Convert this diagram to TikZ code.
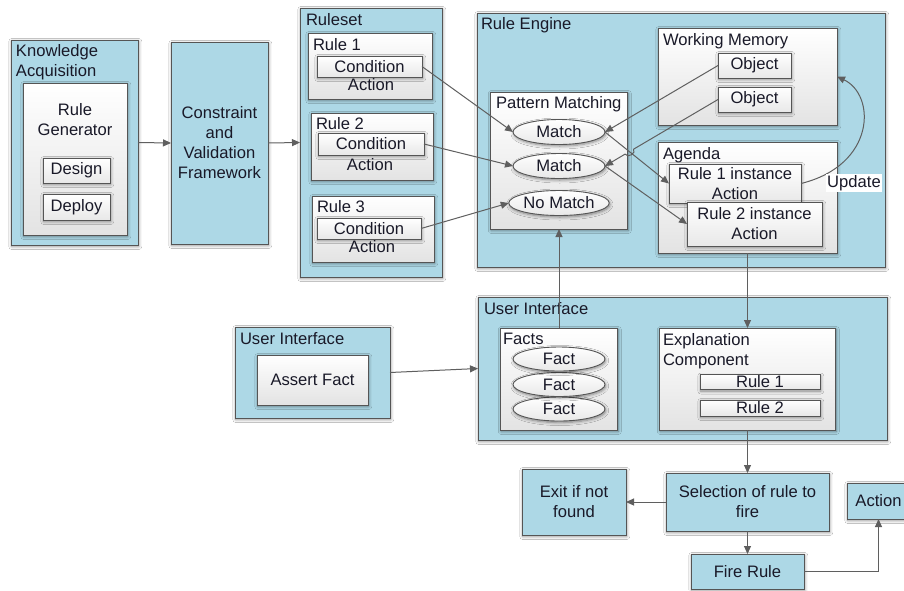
\documentclass[tikz,border=0pt]{standalone}
\usepackage{fontspec}
\setmainfont{Liberation Sans}
\usetikzlibrary{shapes.geometric,shadows.blur,arrows.meta}
\definecolor{paleblue}{RGB}{173,216,230}
\definecolor{edgegray}{RGB}{85,85,85}
\definecolor{wiregray}{RGB}{95,95,95}
\definecolor{inkdark}{RGB}{25,25,40}

\begin{document}
\begin{tikzpicture}[x=1pt,y=-1pt,
  every node/.style={font=\fontsize{16.6}{20}\selectfont, inner sep=0pt, outer sep=0pt, text=inkdark},
  sh/.style={blur shadow={shadow xshift=0.8pt, shadow yshift=-1.5pt, shadow blur radius=3pt, shadow blur steps=6, shadow opacity=45}},
  bluebox/.style={draw=edgegray, line width=0.9pt, fill=paleblue, sh, align=center},
  panel/.style={draw=edgegray, line width=0.9pt, top color=white, bottom color=black!11, sh, align=center},
  chip/.style={draw=edgegray, line width=0.9pt, top color=white, bottom color=black!9, sh, align=center},
  oval/.style={ellipse, draw=edgegray, line width=0.9pt, top color=white, bottom color=black!9, sh, align=center},
  title/.style={anchor=north west, align=left},
  tag/.style={fill=white, inner sep=1.5pt},
  arr/.style={draw=wiregray, line width=1pt, -{Triangle[length=8pt,width=7pt]}},
]
\useasboundingbox (0,0) rectangle (904,590);
\fill[white] (0,0) rectangle (904,590);

% --- Knowledge acquisition ---
\node[bluebox, minimum width=127, minimum height=205] (ka) at (74.5,142.5) {};
\node[title] (kat) at (16,44) {Knowledge\\Acquisition};
\node[panel, minimum width=104, minimum height=152] (rg) at (75,159) {};
\node[anchor=north, align=center] (rgt) at (75,103) {Rule\\Generator};
\node[chip, minimum width=67, minimum height=25] (design) at (76.5,170.5) {Design};
\node[chip, minimum width=67, minimum height=26] (deploy) at (76.5,207) {Deploy};

% --- Constraint framework ---
\node[bluebox, minimum width=97, minimum height=202] (cvf) at (219.5,143) {Constraint\\and\\Validation\\Framework};

% --- Ruleset ---
\node[bluebox, minimum width=142, minimum height=269] (ruleset) at (371,142.5) {};
\node[title] (rst) at (306,13) {Ruleset};
\node[panel, minimum width=124, minimum height=66] (r1) at (370,66) {};
\node[title] (r1t) at (313,38) {Rule 1};
\node[chip, minimum width=105, minimum height=21] (r1c) at (369.5,66.5) {Condition};
\node (r1a) at (371,85) {Action};
\node[panel, minimum width=122, minimum height=67] (r2) at (372,146.5) {};
\node[title] (r2t) at (316,117) {Rule 2};
\node[chip, minimum width=106, minimum height=22] (r2c) at (371,144) {Condition};
\node (r2a) at (370,165) {Action};
\node[panel, minimum width=122, minimum height=66] (r3) at (373,229) {};
\node[title] (r3t) at (317,200) {Rule 3};
\node (r3a) at (372,247) {Action};
\node[chip, minimum width=104, minimum height=21] (r3c) at (369,228.5) {Condition};

% --- Rule engine ---
\node[bluebox, minimum width=408, minimum height=254] (re) at (681,140) {};
\node[title] (ret) at (481,17) {Rule Engine};
\node[panel, minimum width=137, minimum height=137] (pm) at (559,160.5) {};
\node[title] (pmt) at (496,96) {Pattern Matching};
\node[oval, minimum width=92, minimum height=25] (m1) at (559,132) {Match};
\node[oval, minimum width=92, minimum height=25] (m2) at (559,166) {Match};
\node[oval, minimum width=92, minimum height=25] (nm) at (559,203) {No Match};
\node[panel, minimum width=179, minimum height=97] (wm) at (747.5,76.5) {};
\node[title] (wmt) at (663,33) {Working Memory};
\node[chip, minimum width=73, minimum height=25] (o1) at (754.5,65.5) {Object};
\node[chip, minimum width=73, minimum height=25] (o2) at (754.5,99.5) {Object};
\node[panel, minimum width=179, minimum height=111] (ag) at (747.5,197.5) {};
\node[title] (agt) at (663,147) {Agenda};
\node[chip, minimum width=132, minimum height=39] (ri1) at (735,183.5) {Rule 1 instance\\Action};
\node[chip, minimum width=135, minimum height=44] (ri2) at (754.5,224) {Rule 2 instance\\Action};

% --- User interface (right) ---
\node[bluebox, minimum width=409, minimum height=143] (ui2) at (682.5,368.5) {};
\node[title] (ui2t) at (484,302) {User Interface};
\node[panel, minimum width=117, minimum height=102] (facts) at (559,379) {};
\node[title] (factst) at (503,333) {Facts};
\node[oval, minimum width=92, minimum height=24] (f3) at (559,409) {Fact};
\node[oval, minimum width=92, minimum height=24] (f2) at (559,384.5) {Fact};
\node[oval, minimum width=92, minimum height=24] (f1) at (559,359) {Fact};
\node[panel, minimum width=176, minimum height=102] (exp) at (747.5,379) {};
\node[title] (expt) at (663,333) {Explanation\\Component};
\node[chip, minimum width=120, minimum height=15] (er1) at (760,382) {Rule 1};
\node[chip, minimum width=120, minimum height=16] (er2) at (760,408) {Rule 2};

% --- User interface (left) ---
\node[bluebox, minimum width=155, minimum height=91] (ui1) at (312.5,372.5) {};
\node[title] (ui1t) at (240,332) {User Interface};
\node[panel, minimum width=111, minimum height=50] (af) at (312.5,380) {Assert Fact};

% --- Firing cycle ---
\node[bluebox, minimum width=104, minimum height=66] (exit) at (574,502) {Exit if not\\found};
\node[bluebox, minimum width=163, minimum height=58] (sel) at (747.5,502) {Selection of rule to\\fire};
\node[bluebox, minimum width=113, minimum height=35] (fire) at (747.5,571.5) {Fire Rule};
\node[bluebox, minimum width=63, minimum height=36] (action) at (878.5,501) {Action};

% --- Connectors ---
\draw[arr] (ka.east) -- (cvf.west);
\draw[arr] (cvf.east) -- (ruleset.west);
\draw[arr] (r1c.east) -- (m1.west);
\draw[arr] (r2c.east) -- (m2.west);
\draw[arr] (r3c.east) -- (nm.west);
\draw[arr] (o1.west) -- (m1.east);
\draw[arr] (m1.east) -- (ri1.west);
\draw[arr] (m2.east) -- (ri2.west);
% object link hops over the crossing match line
\draw[arr] (o2.west) -- (633.7,149.1) .. controls (636.2,153.4) and (627.6,158.4) .. (625.1,154.1) -- (m2.east);
\draw[arr] (ri1.east) .. controls (876,165) and (876,95) .. (wm.east);
\node[tag] (upd) at (854,183) {Update};
\draw[arr] (facts.north) -- (pm.south);
\draw[arr] (ag.south) -- (exp.north);
\draw[arr] (ui1.east) -- (ui2.west);
\draw[arr] (exp.south) -- (sel.north);
\draw[arr] (sel.west) -- (exit.east);
\draw[arr] (sel.south) -- (fire.north);
\draw[arr] (fire.east) -| (action.south);
\end{tikzpicture}
\end{document}
